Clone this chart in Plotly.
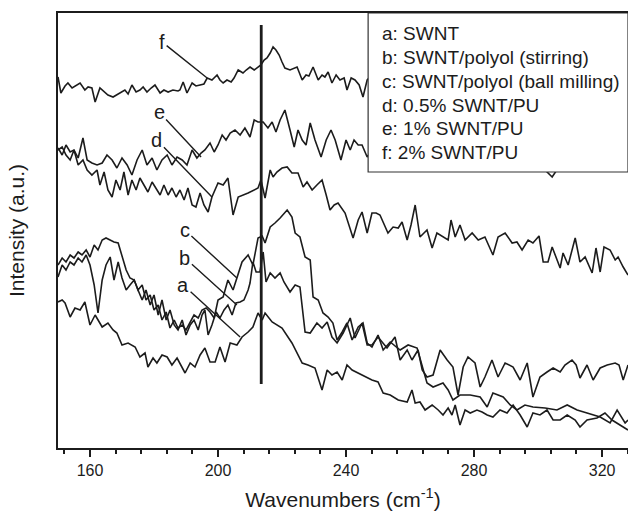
import plotly.graph_objects as go

# ---------------- data (wavenumber in cm^-1, intensity in arbitrary units) ----------------
x_a = [150.0, 151.3, 152.2, 153.8, 155.3, 156.9, 158.4, 160.0, 161.6, 163.8,
       165.6, 167.2, 168.4, 170.0, 171.9, 174.1, 175.6, 177.2, 178.1, 179.7,
       180.9, 182.5, 184.1, 185.6, 187.2, 188.4, 189.7, 191.3, 192.8, 194.4,
       195.9, 197.5, 199.1, 200.6, 202.2, 203.8, 205.9, 207.5, 209.4, 210.9,
       212.5, 213.8, 214.7, 216.9, 220.0, 223.1, 226.3, 228.1, 230.3, 232.5,
       234.1, 235.6, 237.2, 238.8, 240.3, 241.9, 243.8, 246.6, 248.1, 250.0,
       251.6, 253.8, 256.3, 259.1, 260.6, 261.6, 263.1, 264.7, 266.9, 268.8,
       270.3, 271.9, 273.1, 274.1, 275.6, 277.2, 278.8, 280.9, 282.5, 284.1,
       285.9, 288.1, 290.3, 292.2, 294.4, 296.6, 298.4, 300.6, 302.8, 304.7,
       306.9, 309.1, 311.6, 313.1, 315.3, 318.4, 320.9, 323.1, 325.6, 328.1]
y_a = [146, 148, 145, 131, 140, 138, 146, 123, 133, 121,
       125, 118, 115, 103, 105, 101, 91, 95, 81, 90,
       85, 93, 91, 83, 90, 83, 75, 85, 81, 93,
       100, 86, 86, 101, 86, 105, 103, 111, 116, 121,
       135, 128, 135, 126, 120, 105, 85, 83, 80, 58,
       78, 73, 76, 68, 83, 78, 75, 71, 68, 66,
       55, 53, 48, 46, 58, 45, 46, 38, 43, 38,
       33, 40, 33, 43, 23, 38, 35, 38, 36, 33,
       31, 38, 35, 43, 33, 21, 35, 33, 38, 28,
       28, 33, 28, 21, 28, 30, 35, 28, 23, 18]

x_b = [150.0, 151.3, 152.5, 153.8, 155.0, 156.3, 157.5, 158.8, 160.0, 161.3,
       162.5, 163.8, 165.0, 166.3, 167.5, 168.8, 170.0, 171.3, 172.5, 173.8,
       175.0, 176.3, 177.5, 178.8, 180.0, 181.3, 182.5, 183.8, 185.0, 186.3,
       187.5, 188.8, 190.0, 191.3, 192.5, 193.8, 195.0, 195.9, 196.9, 198.1,
       199.4, 200.6, 201.9, 203.1, 204.4, 205.6, 206.9, 208.1, 209.4, 210.0,
       210.9, 211.9, 213.1, 214.1, 215.0, 216.3, 217.8, 219.4, 220.6, 222.5,
       224.1, 225.6, 227.2, 228.8, 230.9, 232.5, 234.1, 235.6, 237.2, 239.1,
       241.3, 242.8, 245.0, 246.6, 248.1, 250.0, 252.8, 255.3, 256.9, 259.1,
       260.6, 262.5, 263.8, 265.3, 267.2, 269.4, 271.6, 273.4, 275.0, 276.6,
       278.1, 280.3, 281.9, 283.4, 285.6, 287.5, 289.7, 292.2, 294.4, 296.6,
       298.4, 300.6, 302.8, 304.7, 306.9, 308.4, 310.6, 311.9, 313.1, 315.3,
       317.2, 319.4, 321.6, 324.1, 325.3, 326.6, 328.1]
y_b = [171, 183, 178, 186, 183, 190, 186, 193, 183, 163,
       135, 168, 183, 191, 168, 186, 170, 158, 163, 168,
       158, 148, 158, 143, 153, 133, 148, 128, 138, 123,
       118, 128, 113, 123, 128, 118, 133, 138, 113, 123,
       136, 130, 138, 143, 133, 145, 146, 148, 158, 165,
       186, 176, 176, 196, 166, 175, 170, 175, 166, 156,
       163, 161, 116, 115, 125, 120, 126, 111, 105, 115,
       130, 110, 125, 103, 103, 111, 100, 111, 88, 98,
       88, 98, 78, 71, 73, 98, 88, 81, 53, 81,
       91, 85, 61, 71, 88, 71, 85, 81, 68, 85,
       51, 71, 76, 80, 76, 83, 88, 83, 70, 83,
       68, 80, 83, 85, 83, 68, 83]

x_c = [150.0, 151.3, 152.5, 153.8, 155.0, 156.3, 157.5, 158.8, 160.0, 161.3,
       162.5, 163.8, 165.0, 166.3, 167.5, 168.8, 170.0, 171.3, 172.5, 173.8,
       175.0, 176.3, 177.5, 178.8, 180.0, 181.3, 182.5, 183.8, 185.0, 186.3,
       187.5, 188.8, 190.0, 191.3, 192.5, 193.8, 195.0, 196.3, 197.5, 198.8,
       200.0, 201.6, 203.1, 204.7, 205.9, 207.5, 209.4, 210.9, 212.5, 213.8,
       214.7, 216.3, 217.8, 219.4, 221.6, 223.1, 224.1, 225.6, 227.2, 228.8,
       229.7, 231.3, 232.8, 234.4, 235.9, 237.2, 238.8, 240.3, 241.9, 243.8,
       245.3, 246.6, 248.1, 250.0, 251.6, 253.8, 256.9, 259.4, 262.2, 263.8,
       265.3, 267.2, 270.3, 271.9, 273.4, 275.6, 278.8, 281.9, 284.1, 285.9,
       289.1, 291.3, 293.4, 295.9, 298.4, 302.2, 305.9, 309.1, 312.2, 315.3,
       319.4, 322.5, 324.7, 327.2, 328.1]
y_c = [183, 190, 186, 193, 190, 196, 193, 198, 191, 203,
       198, 208, 210, 208, 206, 205, 191, 178, 170, 168,
       158, 163, 148, 153, 138, 143, 128, 136, 120, 128,
       120, 123, 118, 126, 133, 130, 138, 140, 136, 130,
       148, 151, 168, 158, 170, 186, 193, 183, 210, 212,
       205, 221, 225, 230, 238, 231, 215, 211, 191, 188,
       151, 148, 135, 131, 125, 108, 116, 125, 108, 121,
       125, 105, 101, 113, 98, 106, 98, 103, 100, 83,
       65, 61, 65, 58, 48, 53, 53, 51, 41, 55,
       51, 43, 38, 43, 41, 40, 38, 43, 38, 35,
       31, 25, 38, 25, 28]

x_d = [150.0, 151.3, 152.5, 153.8, 155.0, 156.3, 157.8, 159.1, 160.6, 162.2,
       163.1, 164.4, 165.6, 166.9, 168.1, 169.4, 170.6, 171.9, 173.1, 174.4,
       175.6, 176.9, 178.1, 179.4, 180.6, 181.9, 183.1, 184.4, 185.6, 186.9,
       188.1, 189.4, 190.6, 191.9, 193.1, 194.4, 195.6, 196.9, 198.1, 200.0,
       201.6, 203.1, 204.7, 206.3, 209.4, 212.5, 213.4, 214.7, 216.3, 217.2,
       218.4, 220.0, 221.6, 223.1, 225.0, 226.6, 227.8, 229.4, 230.9, 232.5,
       233.8, 235.0, 236.3, 237.5, 239.7, 240.9, 242.2, 243.8, 245.0, 246.6,
       248.1, 249.4, 250.6, 253.1, 254.7, 256.3, 257.5, 259.1, 260.3, 261.6,
       263.1, 265.3, 266.9, 268.4, 270.0, 271.9, 272.8, 274.1, 275.6, 277.2,
       279.4, 281.3, 283.4, 285.9, 287.5, 289.7, 291.9, 293.4, 295.0, 296.9,
       298.4, 300.3, 301.6, 303.1, 304.4, 305.6, 306.9, 307.8, 309.4, 311.6,
       313.1, 314.7, 316.9, 318.1, 319.4, 320.6, 322.5, 324.1, 325.0, 326.6,
       328.1]
y_d = [298, 301, 293, 288, 298, 283, 288, 278, 273, 278,
       263, 276, 258, 251, 268, 258, 276, 253, 268, 258,
       270, 263, 256, 266, 260, 253, 263, 253, 260, 251,
       258, 248, 260, 243, 241, 255, 243, 236, 251, 265,
       263, 270, 233, 251, 255, 260, 268, 250, 278, 271,
       276, 280, 281, 275, 275, 261, 266, 258, 263, 268,
       253, 238, 243, 245, 235, 223, 210, 228, 236, 215,
       235, 235, 233, 215, 221, 220, 226, 208, 223, 243,
       211, 218, 200, 215, 212, 208, 228, 211, 223, 208,
       215, 208, 211, 193, 211, 215, 205, 206, 198, 208,
       205, 212, 186, 186, 201, 190, 180, 195, 183, 210,
       186, 191, 175, 200, 176, 201, 198, 188, 191, 181,
       173]

x_e = [150.0, 151.3, 152.5, 153.8, 155.0, 156.3, 157.8, 159.1, 160.6, 162.2,
       163.8, 165.3, 166.9, 168.4, 170.0, 171.6, 173.1, 174.7, 176.3, 177.8,
       179.4, 180.9, 182.5, 184.1, 185.6, 187.2, 188.8, 190.3, 191.9, 193.4,
       194.7, 195.9, 197.5, 198.8, 200.0, 201.3, 202.5, 203.8, 205.3, 206.9,
       208.4, 210.0, 211.3, 212.5, 214.1, 215.6, 216.9, 218.1, 219.4, 220.9,
       222.5, 223.8, 225.0, 226.3, 227.5, 228.8, 230.3, 232.2, 233.8, 235.3,
       236.6, 238.4, 240.0, 241.3, 242.5, 243.8, 245.0, 246.6, 248.1, 250.6,
       263.1, 281.9, 300.6, 304.4, 306.9, 328.1]
y_e = [300, 293, 303, 296, 298, 290, 310, 288, 285, 283,
       285, 293, 288, 280, 290, 283, 273, 288, 298, 283,
       290, 278, 288, 293, 283, 291, 288, 283, 298, 290,
       295, 298, 305, 296, 303, 313, 308, 315, 318, 313,
       320, 311, 328, 326, 326, 320, 326, 316, 328, 338,
       318, 301, 318, 308, 303, 325, 308, 291, 308, 318,
       308, 288, 308, 298, 308, 303, 303, 291, 298, 293,
       290, 285, 283, 271, 283, 280]

x_f = [150.0, 150.9, 152.2, 153.1, 154.4, 155.3, 156.9, 158.4, 159.4, 160.6,
       161.6, 163.1, 164.4, 165.6, 167.2, 168.4, 169.4, 170.9, 171.9, 173.1,
       174.4, 175.6, 176.6, 177.8, 179.1, 180.3, 181.9, 183.1, 184.4, 185.9,
       187.5, 188.1, 189.1, 190.3, 191.9, 193.1, 194.4, 195.6, 196.6, 198.1,
       199.7, 200.6, 201.6, 202.8, 204.1, 205.0, 206.3, 207.8, 208.8, 210.0,
       211.3, 212.2, 213.4, 214.4, 215.3, 216.3, 217.2, 218.1, 219.1, 220.0,
       220.9, 222.5, 223.8, 224.7, 226.3, 227.5, 228.4, 229.7, 231.3, 232.5,
       233.4, 234.4, 235.6, 236.9, 238.1, 239.4, 240.3, 241.6, 242.8, 244.1,
       245.3, 246.6, 248.1, 250.0]
y_f = [371, 355, 362, 365, 360, 362, 365, 358, 361, 360,
       346, 360, 356, 353, 351, 353, 355, 358, 354, 363,
       356, 358, 361, 356, 360, 363, 355, 358, 356, 358,
       357, 358, 366, 355, 365, 362, 363, 364, 370, 368,
       373, 368, 365, 368, 366, 370, 378, 375, 378, 381,
       378, 380, 383, 388, 390, 395, 401, 398, 393, 386,
       380, 378, 380, 381, 368, 373, 372, 381, 368, 373,
       371, 376, 365, 373, 368, 370, 358, 370, 368, 363,
       351, 368, 373, 368]

series_labels = ["a", "b", "c", "d", "e", "f"]
legend_entries = ["a: SWNT",
                  "b: SWNT/polyol (stirring)",
                  "c: SWNT/polyol (ball milling)",
                  "d: 0.5% SWNT/PU",
                  "e: 1% SWNT/PU",
                  "f: 2% SWNT/PU"]
marker_wavenumber = 213.5

# ---------------- figure ----------------
FONT = "Liberation Sans, Arial, Helvetica, sans-serif"
INK = "#1c1c1c"

fig = go.Figure()
for xs, ys in [(x_a, y_a), (x_b, y_b), (x_c, y_c), (x_d, y_d), (x_e, y_e), (x_f, y_f)]:
    fig.add_trace(go.Scatter(x=xs, y=ys, mode="lines",
                             line=dict(color=INK, width=1.6),
                             showlegend=False, hoverinfo="skip"))

# vertical reference line
fig.add_trace(go.Scatter(x=[marker_wavenumber, marker_wavenumber], y=[64, 423],
                         mode="lines", line=dict(color=INK, width=2.8),
                         showlegend=False, hoverinfo="skip"))

# legend box (covers the curves beneath it)
fig.add_shape(type="rect", xref="x", yref="y", x0=246.9, x1=328.1, y0=276, y1=435,
              fillcolor="white", line=dict(color="#333", width=1.2), layer="above")

legend_y = [415, 391, 367, 343, 320, 296]
for txt, yy in zip(legend_entries, legend_y):
    fig.add_annotation(x=250.6, y=yy, xref="x", yref="y", text=txt, showarrow=False,
                       xanchor="left", yanchor="middle",
                       font=dict(family=FONT, size=19, color=INK))

# curve labels with pointer lines
tips_x = [206.9, 205.9, 205.9, 198.1, 194.7, 196.6]
tips_y = [111, 143, 170, 251, 291, 370]
offs = [(-57, -52), (-52, -47), (-52, -48), (-55, -57), (-42, -45), (-45, -36)]
for lab, tx, ty, (ax, ay) in zip(series_labels, tips_x, tips_y, offs):
    fig.add_annotation(x=tx, y=ty, xref="x", yref="y", text=lab,
                       showarrow=True, arrowhead=0, arrowwidth=1.4, arrowcolor=INK,
                       ax=ax, ay=ay, standoff=0,
                       font=dict(family=FONT, size=20, color=INK))

fig.update_layout(
    width=628, height=517,
    margin=dict(l=58, r=0, t=13, b=69),
    paper_bgcolor="white", plot_bgcolor="white",
    font=dict(family=FONT, color=INK),
)
fig.update_xaxes(
    range=[150, 328.1], showgrid=False, zeroline=False,
    showline=True, linewidth=2, linecolor=INK, mirror=True,
    ticks="outside", ticklen=7, tickwidth=1.5, tickcolor=INK,
    tick0=0, dtick=40,
    minor=dict(dtick=8, tick0=0, ticks="outside", ticklen=4, tickwidth=1.5, tickcolor=INK),
    tickfont=dict(family=FONT, size=16, color=INK),
    title=dict(text="Wavenumbers (cm<sup>-1</sup>)", font=dict(family=FONT, size=21, color=INK),
               standoff=14),
)
fig.update_yaxes(
    range=[0, 435], showgrid=False, zeroline=False,
    showline=True, linewidth=2, linecolor=INK, mirror=False,
    ticks="", showticklabels=False,
    title=dict(text="Intensity (a.u.)", font=dict(family=FONT, size=21, color=INK),
               standoff=26),
)

fig.write_html("out.html")
